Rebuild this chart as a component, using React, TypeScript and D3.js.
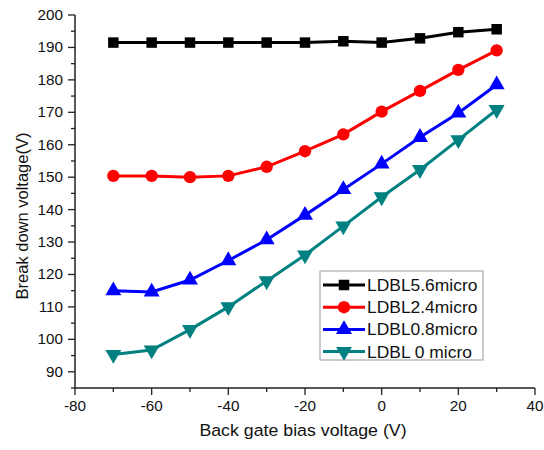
import { useEffect, useRef } from "react"
import * as d3 from "d3"

const biasVoltages = [-70, -60, -50, -40, -30, -20, -10, 0, 10, 20, 30]

const ldbl56 = [191.5, 191.5, 191.5, 191.5, 191.5, 191.5, 191.9, 191.5, 192.8, 194.7, 195.6]
const ldbl24 = [150.4, 150.4, 150.0, 150.4, 153.2, 158.0, 163.2, 170.2, 176.6, 183.1, 189.1]
const ldbl08 = [115.0, 114.6, 118.3, 124.3, 130.7, 138.3, 146.2, 154.1, 162.3, 169.8, 178.5]
const ldbl00 = [95.3, 96.7, 103.0, 110.0, 118.0, 126.0, 134.9, 143.9, 152.3, 161.5, 170.8]

const seriesNames = ["LDBL5.6micro", "LDBL2.4micro", "LDBL0.8micro", "LDBL 0 micro"]
const seriesColors = ["#000000", "#ff0000", "#0000ff", "#008080"]
const xTicks = [-80, -60, -40, -20, 0, 20, 40]
const yTicks = [90, 100, 110, 120, 130, 140, 150, 160, 170, 180, 190, 200]

const W = 544
const H = 450
const margin = { top: 15, right: 9, bottom: 62, left: 75 }
const font = "Arial, 'Liberation Sans', sans-serif"
// the original picture is slightly stretched horizontally
const stretch = 1.09

export default function App() {
  const ref = useRef<SVGSVGElement>(null)

  useEffect(() => {
    if (!ref.current) return
    const svg = d3.select(ref.current)
    svg.selectAll("*").remove()

    const x = d3.scaleLinear().domain([-80, 40]).range([margin.left, W - margin.right])
    const y = d3.scaleLinear().domain([85, 200]).range([H - margin.bottom, margin.top])
    const y0 = H - margin.bottom

    const label = (g: any, tx: number, ty: number, size: number, anchor: string, txt: string) =>
      g.append("text")
        .attr("transform", `translate(${tx},${ty}) scale(${stretch},1)`)
        .attr("text-anchor", anchor)
        .attr("font-family", font)
        .attr("font-size", size)
        .attr("fill", "#111")
        .text(txt)

    // axes
    const axisColor = "#222"
    const gx = svg.append("g")
    gx.append("line")
      .attr("x1", x(-80)).attr("x2", x(40)).attr("y1", y0).attr("y2", y0)
      .attr("stroke", axisColor).attr("stroke-width", 1.5)
    d3.range(-80, 41, 10).forEach((v) => {
      const major = v % 20 === 0
      gx.append("line")
        .attr("x1", x(v)).attr("x2", x(v))
        .attr("y1", y0).attr("y2", y0 + (major ? 7 : 4))
        .attr("stroke", axisColor).attr("stroke-width", 1.3)
    })
    xTicks.forEach((d) => label(gx, x(d), y0 + 23, 14, "middle", String(d)))

    const gy = svg.append("g")
    gy.append("line")
      .attr("x1", margin.left).attr("x2", margin.left)
      .attr("y1", y(85)).attr("y2", y(200))
      .attr("stroke", axisColor).attr("stroke-width", 1.5)
    d3.range(85, 201, 5).forEach((v) => {
      const major = v % 10 === 0
      gy.append("line")
        .attr("x1", margin.left - (major ? 7 : 4)).attr("x2", margin.left)
        .attr("y1", y(v)).attr("y2", y(v))
        .attr("stroke", axisColor).attr("stroke-width", 1.3)
    })
    yTicks.forEach((d) => label(gy, margin.left - 12, y(d) + 5, 14, "end", String(d)))

    label(svg, (x(-80) + x(40)) / 2 - 2, y0 + 48, 16.3, "middle", "Back gate bias voltage (V)")

    svg.append("text")
      .attr("transform", `translate(28,216) rotate(-90)`)
      .attr("text-anchor", "middle")
      .attr("font-family", font)
      .attr("font-size", 16.5)
      .attr("fill", "#111")
      .text("Break down voltage(V)")

    // series
    const allSeries = [ldbl56, ldbl24, ldbl08, ldbl00]
    const symbols = [
      d3.symbol().type(d3.symbolSquare).size(110),
      d3.symbol().type(d3.symbolCircle).size(120),
      d3.symbol().type(d3.symbolTriangle).size(110),
      d3.symbol().type(d3.symbolTriangle).size(110),
    ]
    const line = d3.line<number>()
      .x((_, i) => x(biasVoltages[i]))
      .y((d) => y(d))

    allSeries.forEach((vals, si) => {
      const g = svg.append("g")
      g.append("path")
        .attr("d", line(vals))
        .attr("fill", "none")
        .attr("stroke", seriesColors[si])
        .attr("stroke-width", 3)
      g.selectAll("path.m")
        .data(vals)
        .join("path")
        .attr("class", "m")
        .attr("d", symbols[si]())
        .attr("transform", (d, i) =>
          `translate(${x(biasVoltages[i])},${y(d)})` + (si === 3 ? " rotate(180)" : ""))
        .attr("fill", seriesColors[si])
    })

    // legend
    const lg = svg.append("g").attr("transform", "translate(320,271)")
    lg.append("rect")
      .attr("width", 163).attr("height", 89)
      .attr("fill", "#fff").attr("stroke", "#999").attr("stroke-width", 1)
    seriesNames.forEach((name, i) => {
      const cy = 14 + i * 22.2
      lg.append("line")
        .attr("x1", 3).attr("x2", 45).attr("y1", cy).attr("y2", cy)
        .attr("stroke", seriesColors[i]).attr("stroke-width", 3)
      lg.append("path")
        .attr("d", symbols[i]())
        .attr("transform", `translate(24,${cy})` + (i === 3 ? " rotate(180)" : ""))
        .attr("fill", seriesColors[i])
      label(lg, 47, cy + 6, 16, "start", name)
    })
  }, [])

  return (
    <div style={{ position: "fixed", left: 0, top: 0, background: "#fff" }}>
      <svg ref={ref} width={W} height={H} style={{ display: "block" }} />
    </div>
  )
}
